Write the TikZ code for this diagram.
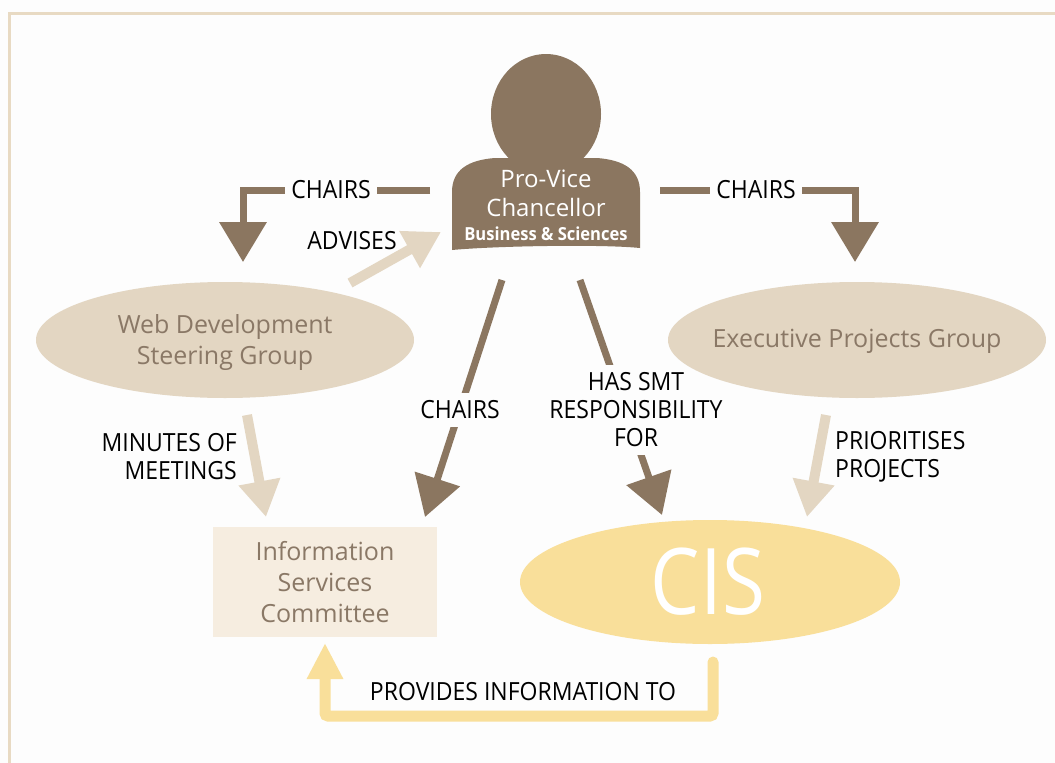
\documentclass[tikz,border=0pt]{standalone}
\usepackage{fontspec}
\setmainfont{Open Sans}
\newfontfamily\labfont{Open Sans}[FakeStretch=0.92]
\newfontfamily\cisfont{Open Sans}[FakeStretch=0.85]
\usetikzlibrary{arrows.meta,shapes.geometric}
\definecolor{pvbg}{HTML}{FDFDFD}
\definecolor{pvbrown}{HTML}{8B7660}
\definecolor{pvbeige}{HTML}{E3D6C2}
\definecolor{pvtext}{HTML}{8A7866}
\definecolor{pvcream}{HTML}{F6EDE0}
\definecolor{pvyellow}{HTML}{F9DF9A}
\definecolor{pvframe}{HTML}{E8DAC3}
\tikzset{
  lbl/.style={font=\labfont\fontsize{25}{28}\selectfont, text=black, align=center, inner sep=0pt},
  gaplbl/.style={lbl, fill=pvbg, inner xsep=6pt, inner ysep=8pt},
  grptext/.style={font=\fontsize{25}{31}\selectfont, text=pvtext, align=center, inner sep=0pt},
  darr/.style={line width=7pt, draw=pvbrown, -{Triangle[width=46pt,length=40pt]}},
  larr/.style={line width=10pt, draw=pvbeige, -{Triangle[width=40pt,length=36pt]}},
  yarr/.style={line width=11pt, draw=pvyellow, rounded corners=3pt, -{Triangle[width=34pt,length=36pt]}},
}
\begin{document}
\begin{tikzpicture}[x=1pt,y=-1pt]
\useasboundingbox (0,0) rectangle (1055,763);
\fill[pvbg] (0,0) rectangle (1055,763);
\draw[pvframe, line width=3pt] (9,763) -- (9,13) -- (1055,13);

% coordinates
\coordinate (cl0) at (430,190);
\coordinate (cl1) at (243,190);
\coordinate (cl2) at (243,262);
\coordinate (cr0) at (660,190);
\coordinate (cr1) at (855,190);
\coordinate (cr2) at (855,262);
\coordinate (cm0) at (502,280);
\coordinate (cm1) at (425,517);
\coordinate (hs0) at (580,280);
\coordinate (hs1) at (662,515);
\coordinate (ad0) at (350,283);
\coordinate (ad1) at (441,232);
\coordinate (mi0) at (247,415);
\coordinate (mi1) at (266,517);
\coordinate (pr0) at (826,415);
\coordinate (pr1) at (807,517);
\coordinate (y0) at (713,662);
\coordinate (y1) at (713,716);
\coordinate (y2) at (325,716);
\coordinate (y3) at (325,643);

% connectors
\draw[darr] (cl0) -- (cl1) -- (cl2);
\draw[darr] (cr0) -- (cr1) -- (cr2);
\draw[darr] (cm0) -- (cm1);
\draw[darr] (hs0) -- (hs1);
\draw[larr] (ad0) -- (ad1);
\draw[larr] (mi0) -- (mi1);
\draw[larr] (pr0) -- (pr1);
\draw[yarr, line cap=round] (y0) -- (y1) -- (y2) -- (y3);

% labels
\node[gaplbl] (lcl) at (331,190) {CHAIRS};
\node[gaplbl] (lcr) at (756,190) {CHAIRS};
\node[lbl] (lad) at (352,241) {ADVISES};
\node[gaplbl] (lcm) at (460,410) {CHAIRS};
\node[gaplbl] (lhs) at (636,410) {HAS SMT\\RESPONSIBILITY\\FOR};
\node[lbl, align=right, anchor=east] (lmi) at (237,457) {MINUTES OF\\MEETINGS};
\node[lbl, align=left, anchor=west] (lpr) at (835,457) {PRIORITISES\\PROJECTS};
\node[lbl] (lyp) at (523,692) {PROVIDES INFORMATION TO};

% nodes
\node[ellipse, fill=pvbeige, minimum width=378pt, minimum height=116pt] (wdsg) at (225,340) {};
\node[grptext] (wdsgt) at (225,343) {Web Development\\Steering Group};
\node[ellipse, fill=pvbeige, minimum width=378pt, minimum height=116pt] (epg) at (857,340) {};
\node[grptext] (epgt) at (857,341) {Executive Projects Group};
\node[fill=pvcream, minimum width=224pt, minimum height=110pt] (isc) at (325,582) {};
\node[grptext] (isct) at (325,582) {Information\\Services\\Committee};
\node[ellipse, fill=pvyellow, minimum width=380pt, minimum height=124pt, inner sep=0pt] (cis) at (710,582) {};
\node[font=\cisfont\fontsize{92}{92}\selectfont, text=white, inner sep=0pt] (cistxt) at (708,582) {CIS};

% person
\node[ellipse, fill=pvbrown, minimum width=110pt, minimum height=120pt, inner sep=0pt] (head) at (546,114) {};
\fill[pvbrown] (452,250) -- (452,192) .. controls (452,170) and (468,160) .. (495,158)
  -- (597,158) .. controls (624,160) and (640,170) .. (640,192) -- (640,248)
  .. controls (600,244) and (495,246) .. cycle;
\node[text=white, align=center, inner sep=0pt, font=\fontsize{24}{29}\selectfont] (pvc) at (546,193) {Pro-Vice\\Chancellor};
\node[text=white, inner sep=0pt, font=\bfseries\labfont\fontsize{18}{20}\selectfont] (bs) at (546,234) {Business \& Sciences};
\end{tikzpicture}
\end{document}
